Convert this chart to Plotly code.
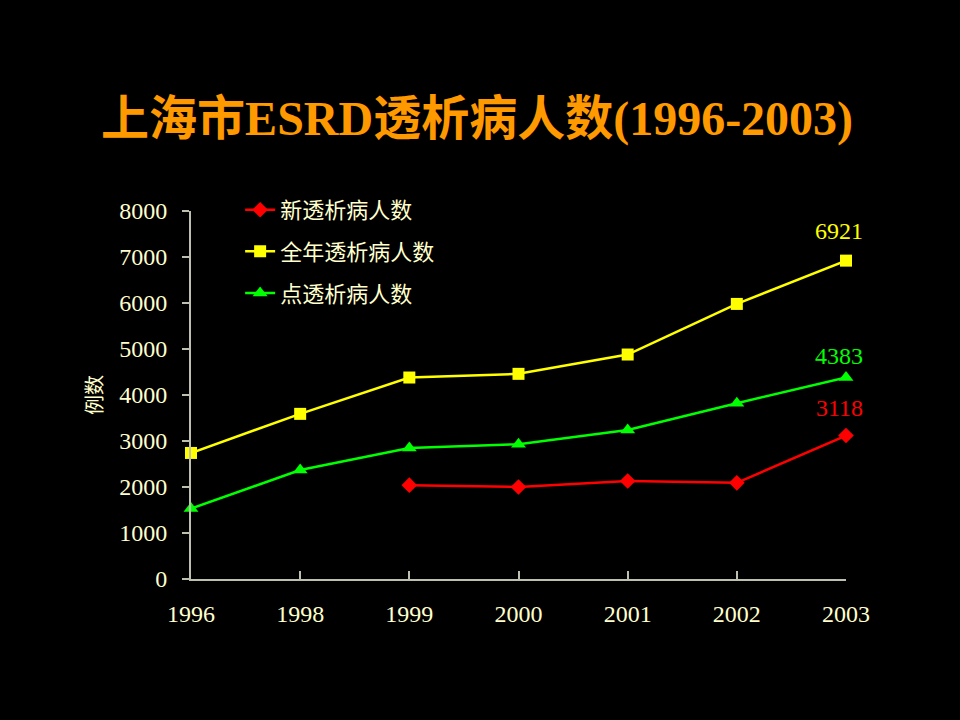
import plotly.graph_objects as go

years = ["1996", "1998", "1999", "2000", "2001", "2002", "2003"]
x_pos = [0, 1, 2, 3, 4, 5, 6]

new_patients = [None, None, 2040, 2000, 2130, 2090, 3118]
annual_total = [2740, 3590, 4380, 4460, 4880, 5980, 6921]
point_total = [1530, 2370, 2850, 2930, 3240, 3820, 4383]

serif = "Liberation Serif, Times New Roman, Noto Sans CJK SC, serif"
cream = "#FFFFCC"

fig = go.Figure()

fig.add_trace(go.Scatter(
    x=x_pos, y=new_patients, name="新透析病人数",
    mode="lines+markers",
    line=dict(color="#FF0000", width=2.5),
    marker=dict(symbol="diamond", size=12, color="#FF0000"),
    cliponaxis=False,
    legendgroup="a",
))
fig.add_trace(go.Scatter(
    x=x_pos, y=annual_total, name="全年透析病人数",
    mode="lines+markers",
    line=dict(color="#FFFF00", width=2.5),
    marker=dict(symbol="square", size=12, color="#FFFF00"),
    cliponaxis=False,
    legendgroup="b",
))
fig.add_trace(go.Scatter(
    x=x_pos, y=point_total, name="点透析病人数",
    mode="lines+markers",
    line=dict(color="#00FF00", width=2.5),
    marker=dict(symbol="triangle-up", size=13, color="#00FF00"),
    cliponaxis=False,
    legendgroup="c",
))

# value labels at the last year
labels = [(annual_total[-1], "#FFFF00", 30),
          (point_total[-1], "#00FF00", 21),
          (new_patients[-1], "#FF0000", 28)]
for val, col, shift in labels:
    fig.add_annotation(
        x=x_pos[-1], y=val, text=str(val), showarrow=False,
        yshift=shift, xshift=-7,
        font=dict(family=serif, size=24, color=col),
    )

fig.update_layout(
    width=960, height=720,
    paper_bgcolor="black", plot_bgcolor="black",
    margin=dict(l=191, r=114, t=211, b=141),
    title=dict(
        text="<b>上海市ESRD透析病人数(1996-2003)</b>",
        x=0.497, xanchor="center", y=0.836, yanchor="middle",
        font=dict(family=serif, size=48, color="#FF9900"),
    ),
    showlegend=True,
    legend=dict(
        x=0.075, y=1.06, xanchor="left", yanchor="top",
        bgcolor="rgba(0,0,0,0)",
        font=dict(family="Noto Sans CJK SC", size=22, color=cream),
        itemwidth=30, tracegroupgap=10,
    ),
    xaxis=dict(
        range=[0, 6], tickmode="array", tickvals=x_pos, ticktext=years,
        showgrid=False, zeroline=False,
        showline=True, linecolor="#BFBFAF", linewidth=2,
        ticks="inside", ticklen=8, tickcolor="#BFBFAF", tickwidth=1.5,
        tickfont=dict(family=serif, size=24, color=cream),
        ticklabelstandoff=12,
    ),
    yaxis=dict(
        range=[0, 8000], dtick=1000,
        showgrid=False, zeroline=False,
        showline=True, linecolor="#BFBFAF", linewidth=2,
        ticks="outside", ticklen=7, tickcolor="#BFBFAF", tickwidth=1.5,
        tickfont=dict(family=serif, size=24, color=cream),
        ticklabelstandoff=10,
        title=dict(text="例数", standoff=11,
                   font=dict(family="Noto Sans CJK SC", size=20, color=cream)),
    ),
)

fig.write_html(
    "out.html",
    config={"displayModeBar": False},
    post_script="document.body.style.margin='0';"
                "document.body.style.background='black';",
)
